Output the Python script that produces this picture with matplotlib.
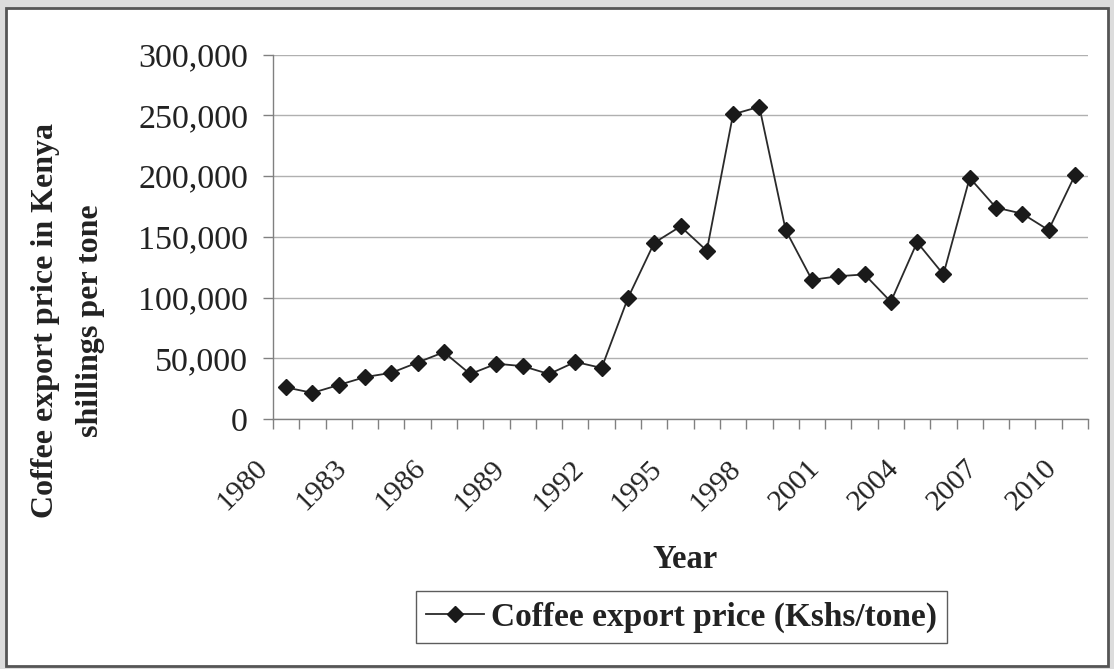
"""
Coffee export price in Kenya, 1980-2010 (line chart with diamond markers)
"""
import numpy as np
import matplotlib
matplotlib.use("Agg")
import matplotlib.pyplot as plt
from matplotlib.patches import Rectangle
from matplotlib.ticker import FuncFormatter

years = list(range(1980, 2011))

price = [
    26000, 21500, 28000, 34500, 38000, 46500, 55000, 37000,
    45500, 43500, 37000, 47000, 42000, 99500, 145000, 158500,
    138500, 250800, 257000, 155500, 114500, 117500, 119000, 96500,
    145500, 119000, 198500, 174000, 169000, 155500, 200500,
]

label_years = [1980, 1983, 1986, 1989, 1992, 1995, 1998, 2001, 2004, 2007, 2010]
y_ticks = [0, 50000, 100000, 150000, 200000, 250000, 300000]

plt.rcParams['font.family'] = ['Liberation Serif', 'DejaVu Serif']

fig = plt.figure(figsize=(11.14, 6.69), dpi=100)
fig.patch.set_facecolor('#dcdcdc')

# chart area frame (white with a dark border)
fig.patches.append(Rectangle((6 / 1114, 1 - 666 / 669), 1102 / 1114, 658 / 669,
                             transform=fig.transFigure, facecolor='white',
                             edgecolor='#555555', lw=2, zorder=-10))

ax = fig.add_axes([273 / 1114, 1 - 419 / 669, 815 / 1114, 364.5 / 669])
ax.set_facecolor('none')

ax.plot(years, price, color='#2a2a2a', lw=1.3, marker='D', markersize=8,
        markerfacecolor='#1a1a1a', markeredgecolor='#1a1a1a',
        label='Coffee export price (Kshs/tone)', zorder=3)

ax.set_xlim(years[0] - 0.5, years[-1] + 0.5)
ax.set_ylim(0, 300000)

# category boundaries carry the ticks, labels every third year
bounds = np.arange(years[0] - 0.5, years[-1] + 1)
ax.set_xticks(bounds)
ax.set_xticklabels([str(int(b + 0.5)) if int(b + 0.5) in label_years else ''
                    for b in bounds], rotation=45, ha='right', va='top',
                   fontsize=21.5, color='#222222')
ax.tick_params(axis='x', direction='out', length=7, width=1, color='#808080', pad=19)

ax.set_yticks(y_ticks)
ax.yaxis.set_major_formatter(FuncFormatter(lambda v, p: f"{int(v):,}"))
ax.tick_params(axis='y', direction='out', length=7, width=1, color='#808080',
               labelsize=24.5, labelcolor='#222222', pad=11)

ax.grid(axis='y', color='#b0b0b0', lw=1)
ax.set_axisbelow(True)
for s in ['top', 'right']:
    ax.spines[s].set_visible(False)
for s in ['left', 'bottom']:
    ax.spines[s].set_color('#808080')
    ax.spines[s].set_linewidth(1)

fig.text(68 / 1114, 1 - 321 / 669,
         'Coffee export price in Kenya\nshillings per tone',
         rotation=90, ha='center', va='center', fontsize=23,
         fontweight='bold', linespacing=1.75, color='#222222')

fig.text(685 / 1114, 1 - 559 / 669, 'Year', ha='center', va='center',
         fontsize=23.5, fontweight='bold', color='#222222')

leg = ax.legend(loc='center', bbox_to_anchor=(681.5 / 1114, 1 - 617 / 669),
                bbox_transform=fig.transFigure, frameon=True, fancybox=False,
                handlelength=1.75, handletextpad=0.2, borderpad=0.3,
                borderaxespad=0, prop={'size': 24, 'weight': 'bold'})
leg.get_frame().set_edgecolor('#333333')
leg.get_frame().set_linewidth(1)
for t in leg.get_texts():
    t.set_color('#222222')

fig.savefig('out.png', dpi=100, facecolor=fig.get_facecolor())
